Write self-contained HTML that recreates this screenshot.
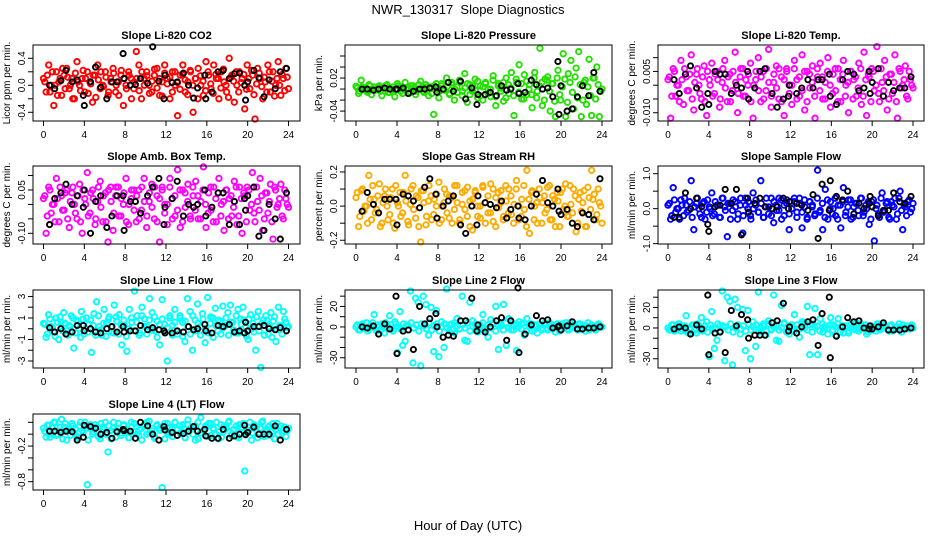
<!DOCTYPE html>
<html><head><meta charset="utf-8"><style>
body{margin:0;background:#fff}
svg{display:block;font-family:"Liberation Sans",sans-serif}
</style></head><body>
<svg id="chart" width="936" height="540" viewBox="0 0 936 540">
<text x="468" y="14" font-size="13" text-anchor="middle">NWR_130317&#160; Slope Diagnostics</text>
<text x="468" y="530" font-size="13" text-anchor="middle">Hour of Day (UTC)</text>
</svg>
<script>
const blackHours=[0.6,1.1,1.7,2.2,2.8,3.3,3.9,4.0,4.6,5.1,5.6,6.2,6.7,7.2,7.8,7.9,8.5,9.0,9.5,10.2,10.7,11.3,11.8,11.9,12.6,13.1,13.7,14.2,14.7,15.1,15.8,15.9,16.5,17.1,17.6,18.2,18.7,19.2,19.7,19.8,20.0,20.6,21.1,21.6,22.1,22.7,23.2,23.8];
const xTicks=[0,4,8,12,16,20,24];

const co2Vals=[0.1,-0.1,0.3,0.0,-0.3,0.2,0.05,-0.15,0.15,0.25,-0.05,0.1,-0.2,0.35,0.0,0.1,-0.1,0.2,0.05,-0.25,0.15,0.3,-0.05,0.0,0.2,-0.15,0.1,0.25,-0.1,0.05,0.15,-0.3,0.0,0.2,0.1,-0.05,0.5,0.3,-0.2,0.1,0.2,0.0,-0.1,0.15,0.25,-0.15,0.05,0.3,0.1,-0.2,0.2,0.0,-0.45,0.15,0.3,-0.1,0.05,0.2,-0.4,0.1,0.25,0.0,-0.15,0.35,0.15,-0.05,0.3,0.1,-0.2,0.2,0.05,-0.1,0.4,0.15,-0.25,0.0,0.2,0.1,-0.35,0.3,-0.05,0.15,-0.5,0.25,0.1,-0.2,0.05,0.3,-0.1,0.2,0.0,0.35,-0.15,0.1,0.25,-0.05];
const co2Vals2=[0.05,0.15,-0.1,0.2,0.0,-0.15,0.1,0.25,-0.05,0.12,0.0,-0.2,0.18,0.05,-0.08,0.22,0.1,-0.12,0.02,0.15,-0.18,0.08,0.2,-0.02,0.12,-0.1,0.05,0.18,0.0,-0.15,0.22,0.1,-0.05,0.15,-0.2,0.05,0.1,-0.08,0.2,0.0,0.14,-0.12,0.06,0.24,-0.04,0.1,-0.16,0.18,0.02,0.12,-0.1,0.2,0.04,-0.06,0.16,0.08,-0.14,0.22,0.0,0.1,-0.2,0.14,0.06,-0.08,0.2,0.02,-0.12,0.16,0.1,-0.04,0.24,0.0,-0.18,0.12,0.06,0.2,-0.1,0.04,0.16,-0.06,0.1,0.22,-0.14,0.02,0.18,-0.02,0.12,-0.1,0.2,0.06,-0.16,0.1,0.0,0.16,-0.08,0.12];
const co2Black=[0.0,-0.05,0.07,0.22,0.05,0.08,-0.15,-0.3,0.05,0.27,-0.03,-0.2,0.05,0.05,0.47,0.1,0.0,0.01,0.1,0.03,0.57,0.06,-0.2,0.15,0.04,0.05,0.18,0.0,-0.19,-0.04,0.15,-0.2,-0.1,0.2,0.22,0.1,0.17,0.18,0.0,-0.22,0.05,0.22,0.11,-0.17,0.08,-0.05,0.2,0.25];
const presVals=[0.005,-0.008,0.016,0.0,-0.004,0.008,-0.01,0.004,0.0,0.006,-0.012,0.002,0.008,-0.006,0.0,-0.014,0.01,0.004,-0.008,0.012,0.002,-0.006,0.006,-0.01,0.0,0.014,-0.004,0.008,-0.012,0.004,-0.046,0.01,-0.016,0.006,0.0,0.02,-0.008,0.012,-0.02,0.004,0.016,-0.012,0.028,-0.024,0.008,-0.004,0.018,-0.016,0.006,-0.02,0.012,0.0,-0.014,0.024,-0.03,0.01,0.002,-0.022,0.02,-0.008,0.03,-0.048,0.012,0.044,-0.018,0.026,-0.01,0.008,-0.034,0.03,-0.004,0.074,-0.03,0.018,0.022,-0.04,0.01,-0.05,0.034,-0.02,0.064,-0.05,0.028,0.052,-0.036,0.038,0.068,-0.05,0.012,-0.028,0.054,-0.048,0.02,0.04,-0.05,0.0];
const presVals2=[0.002,-0.004,0.004,0.0,-0.006,0.006,0.0,-0.002,0.004,-0.004,0.002,0.006,-0.006,0.0,0.004,-0.002,0.006,-0.004,0.002,0.0,-0.008,0.006,0.002,-0.004,0.008,0.0,-0.006,0.004,0.002,-0.008,0.006,0.0,-0.004,0.01,-0.002,0.004,-0.01,0.008,0.0,-0.006,0.012,-0.004,0.002,0.01,-0.01,0.006,-0.002,0.014,-0.012,0.004,0.01,-0.008,0.0,0.016,-0.014,0.006,-0.004,0.012,-0.016,0.008,0.002,-0.012,0.018,-0.006,0.01,-0.018,0.014,0.0,-0.01,0.02,-0.016,0.006,0.012,-0.02,0.016,-0.004,0.01,-0.022,0.02,-0.01,0.004,0.018,-0.024,0.012,-0.006,0.022,-0.016,0.008,-0.02,0.016,0.004,-0.012,0.02,-0.018,0.008,-0.004];
const presBlack=[0.0,0.0,-0.002,0.0,0.002,0.0,0.0,0.0,0.002,-0.008,-0.004,0.0,0.0,0.002,0.004,-0.006,0.0,0.012,-0.004,0.014,-0.018,0.002,-0.028,-0.01,-0.01,-0.006,-0.012,0.006,-0.002,0.0,0.01,-0.008,-0.006,0.016,0.008,0.0,0.002,-0.014,0.05,-0.046,0.006,-0.04,-0.036,-0.014,0.006,-0.012,0.03,-0.004];
const tempVals=[0.002,-0.012,0.006,-0.004,0.0,0.009,-0.007,0.003,-0.002,0.011,-0.009,0.004,0.0,-0.005,0.007,-0.011,0.002,0.008,-0.003,0.005,-0.008,0.001,0.009,-0.006,0.004,-0.002,0.012,-0.010,0.003,0.006,-0.004,0.0,0.008,-0.012,0.002,0.010,-0.006,0.005,-0.002,0.013,-0.008,0.001,0.007,-0.005,0.003,-0.011,0.006,0.0,-0.007,0.009,0.002,-0.004,0.011,-0.009,0.005,-0.001,0.007,-0.012,0.003,0.008,-0.005,0.001,0.010,-0.008,0.004,-0.002,0.006,-0.006,0.009,0.0,-0.010,0.005,0.002,-0.004,0.008,-0.007,0.012,-0.011,0.003,0.006,-0.002,0.014,-0.006,0.001,0.009,-0.009,0.004,-0.003,0.011,-0.012,0.005,0.0,0.007,-0.005,0.002,-0.001];
const tempVals2=[0.003,-0.004,0.005,0.0,-0.006,0.002,0.006,-0.002,0.004,-0.005,0.001,0.006,-0.003,0.003,-0.006,0.005,0.0,-0.004,0.004,0.002,-0.005,0.006,-0.001,0.003,-0.006,0.005,0.001,-0.003,0.006,-0.004,0.002,0.004,-0.006,0.0,0.005,-0.002,0.003,-0.005,0.006,0.001,-0.004,0.004,-0.001,0.006,-0.006,0.002,0.005,-0.003,0.0,0.006,-0.005,0.003,-0.002,0.005,-0.006,0.004,0.001,-0.004,0.006,-0.002,0.003,-0.005,0.005,0.0,-0.003,0.006,-0.006,0.002,0.004,-0.004,0.001,0.005,-0.005,0.003,-0.001,0.006,-0.004,0.002,0.004,-0.006,0.005,0.0,-0.003,0.006,-0.002,0.003,-0.005,0.004,0.001,-0.006,0.006,-0.001,0.002,-0.004,0.005,0.0];
const tempBlack=[0.002,-0.003,0.004,0.007,-0.001,-0.008,-0.003,-0.007,0.005,0.004,0.004,-0.003,0.0,-0.001,0.005,-0.005,-0.001,0.005,0.006,-0.003,-0.008,-0.005,-0.004,0.0,-0.003,-0.001,0.002,-0.001,0.002,0.002,0.004,-0.004,-0.007,0.002,0.005,0.004,-0.002,-0.001,0.005,-0.003,0.001,0.006,-0.004,0.001,-0.002,-0.001,-0.001,0.003];
const ambVals=[0.02,-0.1,0.06,-0.03,0.0,0.09,-0.06,0.03,-0.02,0.05,-0.08,0.04,0.0,-0.05,0.07,-0.1,0.02,0.11,-0.03,0.05,-0.07,0.01,0.08,-0.06,0.04,-0.13,0.06,-0.09,0.03,0.06,-0.04,0.0,0.09,-0.07,0.02,0.05,-0.06,0.05,-0.02,0.09,-0.08,0.01,0.07,-0.05,0.03,-0.13,0.06,0.0,-0.07,0.09,0.02,-0.04,0.12,-0.08,0.05,-0.01,0.07,-0.05,0.03,0.08,-0.05,0.01,0.13,-0.08,0.04,-0.02,0.06,-0.06,0.09,0.0,-0.09,0.05,0.02,-0.04,0.08,-0.07,0.06,-0.1,0.03,0.06,-0.02,0.11,-0.06,0.01,0.09,-0.09,0.04,-0.03,0.07,-0.12,0.05,0.0,0.07,-0.05,0.02,-0.01];
const ambVals2=[0.03,-0.04,0.05,0.0,-0.06,0.02,0.06,-0.02,0.04,-0.05,0.01,0.06,-0.03,0.03,-0.06,0.05,0.0,-0.04,0.04,0.02,-0.05,0.06,-0.01,0.03,-0.06,0.05,0.01,-0.03,0.06,-0.04,0.02,0.04,-0.06,0.0,0.05,-0.02,0.03,-0.05,0.06,0.01,-0.04,0.04,-0.01,0.06,-0.06,0.02,0.05,-0.03,0.0,0.06,-0.05,0.03,-0.02,0.05,-0.06,0.04,0.01,-0.04,0.06,-0.02,0.03,-0.05,0.05,0.0,-0.03,0.06,-0.06,0.02,0.04,-0.04,0.01,0.05,-0.05,0.03,-0.01,0.06,-0.04,0.02,0.04,-0.06,0.05,0.0,-0.03,0.06,-0.02,0.03,-0.05,0.04,0.01,-0.06,0.06,-0.01,0.02,-0.04,0.05,0.0];
const ambBlack=[-0.07,0.02,0.04,0.07,0.0,0.03,-0.01,0.05,-0.1,0.01,0.03,-0.08,-0.04,0.03,0.03,-0.09,0.01,0.01,-0.03,0.03,0.06,0.09,-0.07,-0.01,0.02,0.08,-0.04,0.0,-0.01,0.0,0.05,-0.04,-0.01,0.04,0.04,-0.07,0.01,-0.07,0.02,-0.02,0.03,0.06,-0.11,-0.09,0.0,-0.05,-0.12,0.04];
const rhVals=[0.05,-0.12,0.09,-0.03,0.0,0.18,-0.08,0.04,-0.02,0.13,-0.1,0.06,0.0,-0.05,0.1,-0.13,0.02,0.08,-0.04,0.18,-0.09,0.01,0.12,-0.07,0.05,-0.21,0.09,-0.11,0.03,0.06,-0.05,0.0,0.14,-0.08,0.02,0.07,-0.07,0.05,-0.02,0.12,-0.1,0.01,0.09,-0.06,0.03,-0.14,0.08,0.0,-0.07,0.11,0.02,-0.04,0.13,-0.09,0.05,-0.01,0.09,-0.06,0.03,0.1,-0.05,0.01,0.15,-0.08,0.04,-0.02,0.21,-0.16,0.09,0.0,-0.1,0.05,0.02,-0.04,0.11,-0.08,0.06,-0.12,0.03,0.08,-0.02,0.13,-0.06,0.01,0.1,-0.15,0.04,-0.03,0.09,-0.12,0.05,0.21,0.07,-0.05,0.02,-0.1];
const rhVals2=[0.08,-0.06,0.1,0.0,-0.1,0.04,0.12,-0.04,0.06,-0.12,0.02,0.1,-0.08,0.05,-0.1,0.12,0.0,-0.06,0.08,0.03,-0.11,0.1,-0.02,0.06,-0.12,0.09,0.02,-0.06,0.12,-0.08,0.04,0.07,-0.1,0.0,0.1,-0.04,0.06,-0.1,0.12,0.02,-0.08,0.08,-0.02,0.11,-0.12,0.04,0.09,-0.06,0.0,0.12,-0.1,0.06,-0.04,0.1,-0.12,0.08,0.02,-0.08,0.12,-0.04,0.06,-0.1,0.1,0.0,-0.06,0.12,-0.12,0.04,0.08,-0.08,0.02,0.1,-0.1,0.06,-0.02,0.12,-0.08,0.04,0.08,-0.12,0.1,0.0,-0.06,0.12,-0.04,0.06,-0.1,0.08,0.02,-0.12,0.11,-0.02,0.04,-0.08,0.1,0.0];
const rhBlack=[-0.03,0.08,0.01,-0.04,0.04,0.04,0.04,-0.11,0.07,0.06,0.03,-0.01,0.11,0.16,0.07,-0.07,0.0,0.03,0.06,-0.11,-0.16,0.0,-0.11,0.06,0.02,0.01,-0.01,0.03,-0.07,-0.02,0.0,-0.07,-0.08,0.0,0.07,0.15,0.02,0.0,0.1,-0.03,-0.05,-0.02,-0.1,-0.12,-0.04,-0.05,-0.08,0.16];
const sampVals=[0.1,-0.3,0.6,-0.1,0.0,0.25,-0.2,0.1,-0.05,0.8,-0.6,0.15,0.0,-0.25,0.2,-0.1,0.05,0.45,-0.15,0.1,-0.25,0.3,0.05,-0.8,0.15,-0.05,0.2,-0.3,0.1,-0.7,0.3,0.0,-0.2,0.45,0.1,-0.1,0.8,-0.25,0.05,-0.15,0.3,-0.4,0.1,-0.05,0.25,-0.2,0.15,-0.6,0.0,0.2,-0.1,0.3,-0.55,0.05,-0.25,0.2,0.1,-0.15,1.1,-0.05,-0.6,0.55,-0.3,0.2,0.0,-0.2,0.1,-0.55,0.6,-0.1,0.25,-0.3,0.05,0.15,-0.2,0.3,-0.1,0.0,-0.45,0.2,-0.92,0.1,-0.25,0.45,-0.05,0.2,-0.3,0.1,0.3,-0.15,0.5,-0.6,0.05,0.2,-0.1,0.15];
const sampVals2=[0.15,-0.2,0.25,0.0,-0.3,0.1,0.3,-0.1,0.2,-0.25,0.05,0.3,-0.15,0.15,-0.3,0.25,0.0,-0.2,0.2,0.1,-0.25,0.3,-0.05,0.15,-0.3,0.25,0.05,-0.15,0.3,-0.2,0.1,0.2,-0.3,0.0,0.25,-0.1,0.15,-0.25,0.3,0.05,-0.2,0.2,-0.05,0.3,-0.3,0.1,0.25,-0.15,0.0,0.3,-0.25,0.15,-0.1,0.25,-0.3,0.2,0.05,-0.2,0.3,-0.1,0.15,-0.25,0.25,0.0,-0.15,0.3,-0.3,0.1,0.2,-0.2,0.05,0.25,-0.25,0.15,-0.05,0.3,-0.2,0.1,0.2,-0.3,0.25,0.0,-0.15,0.3,-0.1,0.15,-0.25,0.2,0.05,-0.3,0.3,-0.05,0.1,-0.2,0.25,0.0];
const sampBlack=[-0.25,-0.25,0.45,0.0,0.3,0.05,-0.45,-0.65,0.05,0.1,0.55,0.15,0.55,-0.75,0.3,-0.1,0.15,0.3,0.05,0.0,0.05,0.3,0.0,0.2,0.15,0.1,-0.05,0.4,-0.85,0.7,-0.05,0.8,0.35,0.25,0.5,-0.15,0.15,0.0,0.15,0.35,0.05,-0.2,-0.05,-0.05,0.45,0.2,0.15,0.35];
const l1Vals=[0.5,-0.8,1.3,0.2,-0.3,1.0,-1.0,0.6,1.5,-0.2,0.3,1.2,-1.8,0.8,0.0,1.6,-0.5,1.0,0.4,-2.2,1.4,2.5,0.2,-0.6,1.8,0.5,1.1,-0.3,2.2,0.7,1.3,-1.5,0.3,-2.1,1.8,0.6,3.5,1.2,-0.4,2.0,0.9,0.2,2.8,1.5,-0.2,0.7,-1.5,2.7,0.4,-3.0,1.0,0.3,1.8,-0.5,1.2,0.6,-1.2,2.8,1.6,-2.0,0.8,2.3,0.2,1.4,-1.3,2.9,0.5,1.0,1.9,-0.2,0.7,2.1,0.3,1.5,2.2,0.6,-0.4,1.8,0.9,2.0,0.2,-1.0,1.3,0.5,-2.0,1.6,-3.6,0.8,1.2,-0.5,1.5,0.7,-1.2,2.0,0.3,1.6,0.6,0.2];
const l1Vals2=[0.4,-0.5,0.9,0.1,-0.7,0.6,1.1,-0.2,0.5,-0.6,0.2,1.0,-0.4,0.7,-0.8,0.9,0.0,-0.3,0.8,0.3,-0.6,1.2,-0.1,0.5,-0.7,0.9,0.2,-0.4,1.1,-0.5,0.3,0.8,-0.7,0.0,1.0,-0.2,0.6,-0.6,1.2,0.2,-0.5,0.8,-0.1,1.1,-0.8,0.4,0.9,-0.3,0.1,1.2,-0.6,0.6,-0.2,1.0,-0.7,0.7,0.2,-0.5,1.2,-0.2,0.5,-0.6,0.9,0.0,-0.4,1.1,-0.8,0.3,0.8,-0.5,0.1,1.0,-0.6,0.6,-0.1,1.2,-0.4,0.4,0.8,-0.7,0.9,0.0,-0.3,1.1,-0.2,0.5,-0.6,0.8,0.2,-0.8,1.1,-0.1,0.3,-0.5,0.9,0.1];
const l1Black=[0.1,-0.3,0.0,-0.5,-0.3,0.3,0.3,-0.2,0.0,-0.3,-0.4,0.0,0.2,-0.3,0.2,-0.3,-0.2,-0.2,0.3,-0.1,0.1,-0.1,-0.2,-0.4,-0.4,-0.2,-0.3,0.2,-0.1,0.0,0.4,-0.2,-0.4,0.3,0.2,0.4,-0.3,-0.2,-0.4,0.6,-0.2,0.2,0.2,0.3,0.0,-0.1,0.1,-0.2];
const l2Vals=[0,-3,2,-1,4,-2,1,12,-4,0,3,-6,2,11,-2,5,-25,15,-18,-14,2,35,-35,28,24,-38,30,22,-8,19,-24,16,-29,5,-20,37,-4,3,-6,8,-2,30,-13,-14,24,6,-3,-5,2,12,-2,-10,7,4,20,-22,3,22,-18,8,-3,1,-23,5,3,-8,8,0,-4,2,-6,3,-1,4,-3,0,2,-5,3,-2,1,4,-3,0,2,-1,3,-2,0,1,-3,2,0,-1,2,0];
const l2Vals2=[2,-3,3,0,-4,1,4,-1,2,-3,1,4,-2,2,-4,3,0,-2,3,1,-3,4,-1,2,-4,3,1,-2,4,-3,1,3,-4,0,3,-1,2,-3,4,1,-2,2,-1,4,-4,1,3,-2,0,4,-3,2,-1,3,-4,2,1,-3,4,-1,2,-3,3,0,-2,4,-4,1,3,-3,1,3,-3,2,-1,4,-2,1,3,-4,3,0,-2,4,-1,2,-3,3,1,-4,4,-1,1,-3,3,0];
const l2Black=[0,-1,1,-7,3,-2,30,-26,-4,-3,-22,20,3,8,13,0,-10,-8,-9,6,6,28,-4,2,-5,0,6,9,-13,6,38,-25,-7,2,11,6,7,-1,0,1,-3,1,5,-2,-2,-1,-1,0];
const l3Vals=[0,-2,3,-1,4,-3,1,12,-5,0,3,-5,2,10,-1,6,-28,16,-20,-12,2,36,-32,30,26,-36,28,20,-6,18,-22,17,-30,6,-18,35,-3,4,-7,7,-2,32,-12,-13,22,5,-4,-6,3,13,-1,-9,6,5,21,-26,4,19,-26,9,-4,2,-6,10,3,-7,9,1,-5,2,-5,4,-1,5,-3,0,3,-6,2,-2,1,4,-2,0,3,-1,2,-3,0,1,-2,3,0,-1,2,0];
const l3Vals2=[-2,3,-3,1,4,-1,2,-4,0,3,-2,4,1,-3,2,-4,3,0,-1,4,-3,2,1,-2,4,-4,0,3,-1,2,-3,4,-2,1,3,-4,0,2,-3,4,-1,1,3,-2,0,4,-4,2,1,-3,3,-1,4,0,-2,3,-4,1,2,-3,4,0,-1,3,-2,1,4,-4,2,0,-3,3,1,-2,4,-1,0,3,-4,2,1,-3,4,-1,0,2,-3,3,-2,1,4,-4,0,2,-1,3];
const l3Black=[-1,1,0,-6,3,-1,32,-26,-5,-4,-24,17,2,13,8,-10,-7,-7,-7,5,7,24,-3,1,-5,1,6,8,-17,14,30,-29,-8,1,10,6,7,0,-1,2,-1,1,5,-2,-2,-2,-1,0];
const l4Vals=[0.1,-0.05,0.15,0.0,0.2,-0.02,0.05,0.25,0.12,-0.1,0.08,0.18,0.02,-0.04,0.14,0.06,0.2,-0.85,0.1,0.0,0.16,0.04,-0.08,0.12,0.2,-0.3,0.06,0.1,-0.05,0.18,0.02,0.14,0.08,-0.06,0.2,0.04,0.12,-0.02,0.1,0.16,0.0,0.22,0.06,-0.07,0.14,0.1,-0.9,0.18,0.03,0.12,-0.04,0.2,0.08,0.02,0.16,-0.06,0.24,0.1,0.0,0.14,-0.08,0.28,0.06,0.12,0.18,-0.02,0.08,0.2,0.04,-0.05,0.14,0.1,0.22,0.0,0.08,-0.04,0.16,0.12,-0.62,0.06,0.2,0.02,0.14,-0.06,0.1,0.22,0.04,0.12,-0.02,0.18,0.08,0.0,0.14,0.06,-0.04,0.1];
const l4Vals2=[0.05,0.15,-0.05,0.1,0.2,0.0,0.12,-0.08,0.18,0.06,-0.02,0.14,0.08,-0.06,0.2,0.02,0.1,-0.1,0.16,0.04,0.12,-0.04,0.18,0.08,0.0,0.14,-0.08,0.2,0.06,0.1,-0.02,0.16,0.04,-0.06,0.12,0.18,0.0,0.08,-0.1,0.14,0.2,0.02,0.1,-0.04,0.16,0.06,0.12,-0.08,0.18,0.0,0.1,0.2,-0.02,0.14,0.04,-0.06,0.16,0.08,0.12,-0.1,0.2,0.02,0.06,0.14,-0.04,0.18,0.1,0.0,-0.08,0.16,0.04,0.12,0.2,-0.02,0.08,0.14,-0.06,0.1,0.18,0.02,0.06,-0.1,0.16,0.12,0.0,0.2,-0.04,0.08,0.14,0.04,-0.08,0.18,0.1,0.02,0.12,0.06];
const l4Black=[0.05,0.05,0.03,0.05,0.04,-0.1,-0.05,0.15,0.13,0.1,0.0,0.03,-0.07,0.04,0.08,0.06,0.05,-0.07,0.2,0.14,0.0,-0.1,0.13,0.07,0.03,-0.02,0.01,0.05,0.13,0.05,0.08,-0.03,-0.07,-0.07,0.08,-0.07,-0.03,0.0,0.15,-0.01,0.03,0.12,0.0,0.0,0.0,0.14,-0.1,0.08];

const cols=[{l:33,r:300,x0:43.5,x1:288.5},{l:345,r:612,x0:356,x1:602},{l:658,r:924,x0:668,x1:913}];
const rows=[{t:45,b:121},{t:166,b:244},{t:290,b:368},{t:414,b:490}];
const panels=[
 {name:'co2',title:'Slope Li-820 CO2',yl:'Licor ppm per min.',c:0,r:0,ymin:-0.529,ymax:0.597,ticks:[-0.4,-0.2,0,0.2,0.4],labels:{'0.4':'0.4','0':'0.0','-0.4':'-0.4'},col:'#ff0000',v:co2Vals,v2:co2Vals2,bk:co2Black},
 {name:'pressure',title:'Slope Li-820 Pressure',yl:'kPa per min.',c:1,r:0,ymin:-0.058,ymax:0.08,ticks:[-0.04,-0.02,0,0.02,0.04,0.06],labels:{'0.02':'0.02','-0.04':'-0.04'},col:'#22e000',v:presVals,v2:presVals2,bk:presBlack},
 {name:'temp',title:'Slope Li-820 Temp.',yl:'degrees C per min.',c:2,r:0,ymin:-0.013,ymax:0.0146,ticks:[-0.01,-0.005,0,0.005,0.01],labels:{'0.005':'0.005','-0.01':'-0.010'},col:'#ff00ff',v:tempVals,v2:tempVals2,bk:tempBlack},
 {name:'amb-box-temp',title:'Slope Amb. Box Temp.',yl:'degrees C per min.',c:0,r:1,ymin:-0.137,ymax:0.133,ticks:[-0.1,-0.05,0,0.05,0.1],labels:{'0.05':'0.05','-0.1':'-0.10'},col:'#ff00ff',v:ambVals,v2:ambVals2,bk:ambBlack},
 {name:'gas-rh',title:'Slope Gas Stream RH',yl:'percent per min.',c:1,r:1,ymin:-0.222,ymax:0.235,ticks:[-0.2,-0.1,0,0.1,0.2],labels:{'0.2':'0.2','0':'0.0','-0.2':'-0.2'},col:'#ffaa00',v:rhVals,v2:rhVals2,bk:rhBlack},
 {name:'sample-flow',title:'Slope Sample Flow',yl:'ml/min per min.',c:2,r:1,ymin:-1.01,ymax:1.22,ticks:[-1,-0.5,0,0.5,1],labels:{'1':'1.0','0':'0.0','-1':'-1.0'},col:'#0000ff',v:sampVals,v2:sampVals2,bk:sampBlack},
 {name:'line1-flow',title:'Slope Line 1 Flow',yl:'ml/min per min.',c:0,r:2,ymin:-3.65,ymax:3.6,ticks:[-3,-2,-1,0,1,2,3],labels:{'3':'3','1':'1','-1':'-1','-3':'-3'},col:'#00ffff',v:l1Vals,v2:l1Vals2,bk:l1Black},
 {name:'line2-flow',title:'Slope Line 2 Flow',yl:'ml/min per min.',c:1,r:2,ymin:-40,ymax:36,ticks:[-30,-20,-10,0,10,20,30],labels:{'20':'20','0':'0','-30':'-30'},col:'#00ffff',v:l2Vals,v2:l2Vals2,bk:l2Black},
 {name:'line3-flow',title:'Slope Line 3 Flow',yl:'ml/min per min.',c:2,r:2,ymin:-39,ymax:37,ticks:[-30,-20,-10,0,10,20,30],labels:{'20':'20','0':'0','-30':'-30'},col:'#00ffff',v:l3Vals,v2:l3Vals2,bk:l3Black},
 {name:'line4-flow',title:'Slope Line 4 (LT) Flow',yl:'ml/min per min.',c:0,r:3,ymin:-0.94,ymax:0.34,ticks:[-0.8,-0.6,-0.4,-0.2,0,0.2],labels:{'-0.2':'-0.2','-0.8':'-0.8'},col:'#00ffff',v:l4Vals,v2:l4Vals2,bk:l4Black}
];
const NS='http://www.w3.org/2000/svg';
const svg=document.getElementById('chart');
function mk(tag,attrs,parent){const e=document.createElementNS(NS,tag);for(const k in attrs)e.setAttribute(k,attrs[k]);parent.appendChild(e);return e;}
panels.forEach(p=>{
 const C=cols[p.c],R=rows[p.r];
 const g=mk('g',{},svg);
 
 
 const xs=h=>C.x0+(C.x1-C.x0)*h/24;
 const ys=v=>R.b-(v-p.ymin)/(p.ymax-p.ymin)*(R.b-R.t);
 const t=mk('text',{x:(C.l+C.r)/2,y:R.t-6,'font-size':11,'font-weight':'bold','text-anchor':'middle'},g);
 t.textContent=p.title;
 
 
 const yl=mk('text',{x:0,y:0,'font-size':10,'text-anchor':'middle',transform:`translate(${C.l-23},${(R.t+R.b)/2}) rotate(-90)`},g);
 yl.textContent=p.yl;
 
 
 const pg=mk('g',{fill:'none',stroke:p.col,'stroke-width':1.9},g);
 
 
 const n=p.v.length;
 p.v.forEach((v,i)=>{const c=mk('circle',{cx:xs(i*24/(n-1)).toFixed(1),cy:ys(v).toFixed(1),r:2.7},pg);
  
  });
 const n2=p.v2.length;
 p.v2.forEach((v,i)=>{const c=mk('circle',{cx:xs((i+0.5)*24/n2).toFixed(1),cy:ys(v).toFixed(1),r:2.7},pg);
  
  });
 const bg=mk('g',{fill:'none',stroke:'#000','stroke-width':1.9},g);
 
 
 p.bk.forEach((v,i)=>{const c=mk('circle',{cx:xs(blackHours[i]).toFixed(1),cy:ys(v).toFixed(1),r:2.6},bg);
  
  });
 const box=mk('rect',{x:C.l,y:R.t,width:C.r-C.l,height:R.b-R.t,fill:'none',stroke:'#000','stroke-width':1},g);
 
 
 const xa=mk('g',{stroke:'#000','stroke-width':1},g);
 
 
 xTicks.forEach(h=>{mk('line',{x1:xs(h),x2:xs(h),y1:R.b,y2:R.b+5},xa);
  const tl=mk('text',{x:xs(h),y:R.b+17,'font-size':10,'text-anchor':'middle',stroke:'none'},xa);
  tl.textContent=h;
  
  });
 const ya=mk('g',{stroke:'#000','stroke-width':1},g);
 
 
 mk('line',{x1:C.l,x2:C.l,y1:ys(p.ticks[0]),y2:ys(p.ticks[p.ticks.length-1])},ya);
 p.ticks.forEach(v=>{const y=ys(v);mk('line',{x1:C.l-5,x2:C.l,y1:y,y2:y},ya);
  const lab=p.labels[String(v)];
  if(lab!==undefined){const tl=mk('text',{x:0,y:0,'font-size':10,'text-anchor':'middle',stroke:'none',transform:`translate(${C.l-8},${y}) rotate(-90)`},ya);
   tl.textContent=lab;
   
   }});
});
</script>
</body></html>
